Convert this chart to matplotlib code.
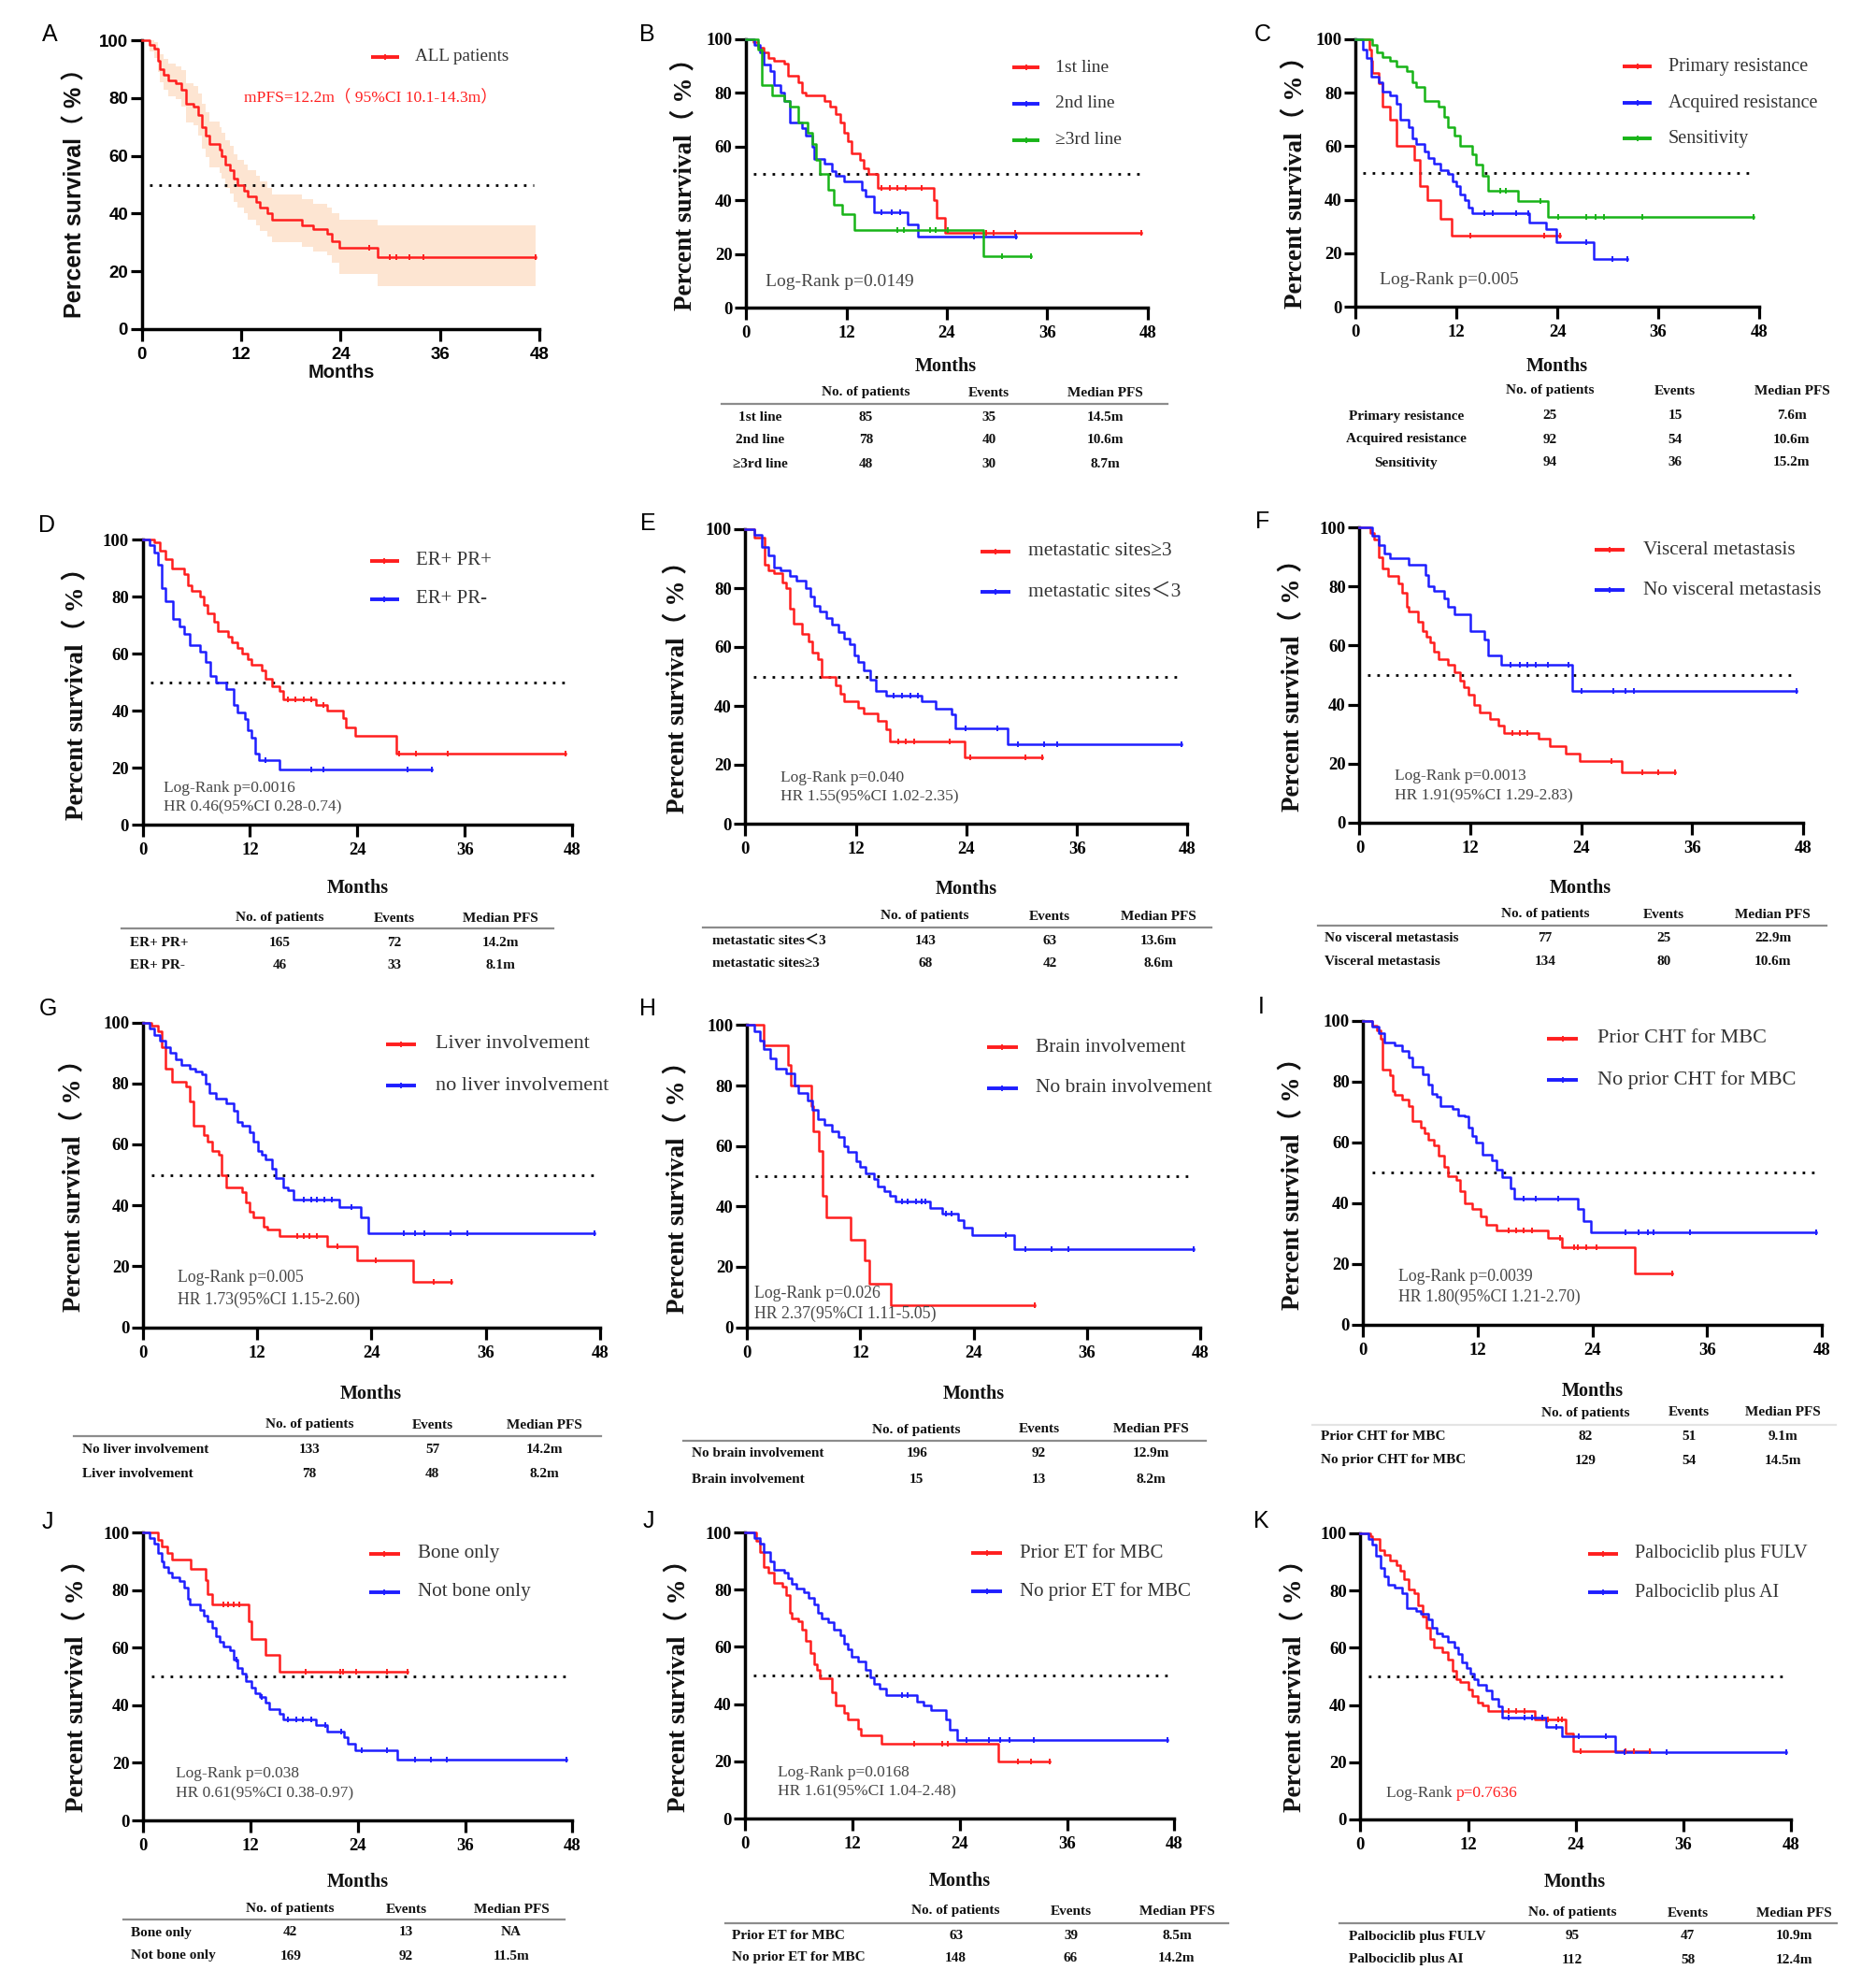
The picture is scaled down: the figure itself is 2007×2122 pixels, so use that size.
import numpy as np
import matplotlib
matplotlib.use('Agg')
import matplotlib.pyplot as plt
from matplotlib.lines import Line2D

W, H = 2008, 2122
SERIF = ['Liberation Serif', 'Noto Sans CJK SC']
SANS = ['Liberation Sans', 'Noto Sans CJK SC']
RED = '#FF1E1E'
BLUE = '#1E1EFF'
GREEN = '#18B418'
BAND = '#FDE5D2'
TXT = '#333333'
STAT = '#454545'

x_ticks = [0, 12, 24, 36, 48]
y_ticks = [0, 20, 40, 60, 80, 100]
median_ref = 50
tbl_headers = ['No. of patients', 'Events', 'Median PFS']

# ---------------- Panel A : all patients ----------------
a_all_t = [0, 0.96, 1.45, 1.93, 2.17, 2.65, 3.14, 4.1, 4.82, 5.3, 6.27, 6.75, 7.24, 7.72, 8.2, 9.4, 9.65, 10.13, 10.6, 11.1, 11.58, 12.3, 12.8, 13.75, 14.23, 15.2, 15.68, 19.3, 20.74, 22.4, 22.9, 23.9, 28.5, 47.5]
a_all_s = [100, 98.5, 97, 93, 90, 88, 86, 85, 83, 78, 77, 74, 70, 67, 64, 62, 60, 57, 55, 52, 50, 48, 46, 44, 42, 40, 38, 36, 34.5, 33, 30.5, 28, 25, 25]
a_ci_hi = [100, 100, 99.5, 97, 95, 93.5, 92, 91, 89.5, 85, 84, 81.5, 78, 75, 72, 70, 68, 65.5, 63.5, 60.5, 58.5, 57, 55, 53, 51, 49, 46.5, 45, 43.5, 42, 40, 38, 36, 36]
a_ci_lo = [100, 96, 94, 89, 85.5, 83, 80.5, 79.5, 77, 71.5, 70.5, 67, 62.5, 59.5, 56, 54, 52, 49, 47, 44, 42, 40, 38, 36, 34, 32, 30, 28.5, 27, 25.5, 23, 19, 15, 15]
a_all_c = [27.5, 29.9, 30.7, 32.3, 34.0, 47.5]

# ---------------- Panel B : line of therapy ----------------
b_first_t = [0, 0.86, 1.43, 2.15, 2.63, 3.34, 4.54, 5.01, 6.21, 6.69, 7.16, 9.31, 10.03, 10.74, 11.22, 11.7, 12.18, 12.66, 13.61, 14.09, 14.57, 15.76, 22.45, 22.83, 23.78, 47.28]
b_first_s = [100, 99, 97, 95, 93, 92, 91, 86.5, 84, 80, 79, 77, 75, 72, 69, 65, 62, 57.5, 55, 52, 50, 44.5, 40, 33.5, 28, 28]
b_first_c = [16.2, 17.2, 18.1, 19.1, 21.0, 28.7, 29.6, 32.2, 47.28]
b_second_t = [0, 0.96, 1.67, 2.15, 2.87, 3.34, 4.06, 4.54, 5.25, 6.69, 7.16, 7.88, 8.12, 9.31, 10.27, 10.74, 11.7, 13.85, 14.33, 15.28, 19.34, 20.53, 32.24]
b_second_s = [100, 98, 95, 90.5, 88, 83, 80, 77, 69, 67, 64, 60, 55.5, 53.5, 51, 49, 47, 44, 41.5, 35.5, 31, 26.5, 26.5]
b_second_c = [16.2, 17.4, 18.4, 27.2, 32.24]
b_third_t = [0, 1.43, 1.91, 3.1, 4.54, 5.25, 6.21, 7.4, 7.88, 8.36, 8.83, 9.79, 10.5, 11.46, 12.89, 28.32, 34.05]
b_third_s = [100, 96, 83, 79, 77, 75, 69, 65, 61, 55, 50, 44, 38.5, 35, 29, 19.3, 19.3]
b_third_c = [18.1, 18.9, 22.0, 22.7, 24.1, 30.6, 34.05]

# ---------------- Panel C : endocrine sensitivity ----------------
c_prim_t = [0, 1.6, 1.9, 2.0, 2.71, 3.18, 4.13, 4.85, 6.99, 7.6, 8.56, 10.08, 11.41, 24.33]
c_prim_s = [100, 96, 92, 87.5, 83.5, 75, 70, 60, 55, 45, 40, 33, 26.5, 26.5]
c_prim_c = [13.6, 22.4, 24.33]
c_acq_t = [0, 0.81, 1.28, 1.9, 2.71, 3.18, 4.13, 4.85, 5.32, 6.27, 6.75, 7.22, 8.17, 8.65, 9.36, 10.08, 11.03, 11.5, 11.98, 12.45, 12.93, 13.4, 13.88, 20.67, 22.67, 23.86, 28.37, 32.32]
c_acq_s = [100, 96, 93, 86, 84, 80.5, 79, 76, 70, 67, 63, 61, 58, 55.5, 53.5, 51, 49.5, 47, 45, 42, 40, 37, 35, 31.5, 29, 24, 18, 18]
c_acq_c = [15.3, 16.3, 19.1, 20.5, 27.4, 30.5, 32.32]
c_sens_t = [0, 2.0, 2.47, 3.18, 4.13, 4.85, 6.04, 6.75, 7.22, 8.17, 9.84, 10.55, 11.03, 11.74, 12.45, 13.88, 14.35, 15.07, 15.78, 19.34, 22.91, 47.29]
c_sens_s = [100, 98, 95, 93.5, 92, 90, 88, 84, 82, 77, 75, 71, 67, 64, 60, 57, 53, 49, 43.5, 39.5, 33.5, 33.5]
c_sens_c = [17.2, 17.9, 22.0, 24.1, 27.4, 28.6, 29.6, 34.1, 47.29]

# ---------------- Panel D : PR status ----------------
d_prpos_t = [0, 1.25, 1.92, 2.59, 3.26, 4.6, 5.04, 5.49, 6.38, 6.83, 7.28, 7.95, 8.39, 9.51, 9.96, 10.63, 11.07, 11.74, 12.19, 13.3, 13.75, 14.42, 15.31, 15.76, 19.33, 20.67, 22.37, 22.68, 23.71, 28.35, 47.23]
d_prpos_s = [100, 99, 96, 93, 90, 88, 84, 82, 80, 77, 74, 71, 68, 66, 64, 62, 60, 58, 56, 54, 51, 48.5, 47, 44, 42, 40, 37.5, 34, 31, 25, 25]
d_prpos_c = [16.2, 17.1, 18.0, 18.9, 20.2, 28.7, 30.5, 34.1, 47.23]
d_prneg_t = [0, 0.8, 1.25, 1.7, 2.14, 2.59, 3.35, 4.15, 4.6, 5.27, 6.38, 7.05, 7.59, 8.17, 9.29, 10.18, 10.63, 11.38, 11.74, 12.19, 12.63, 12.99, 15.31, 32.28]
d_prneg_s = [100, 98, 95.5, 91, 83, 78.5, 72, 69.5, 67, 63, 60.5, 57, 52, 50, 47.5, 42, 39.5, 37, 33, 30.5, 25, 22.5, 19.5, 19.5]
d_prneg_c = [13.75, 18.9, 20.2, 29.6, 32.28]

# ---------------- Panel E : number of metastatic sites ----------------
e_ge3_t = [0, 0.95, 2.04, 2.47, 3.12, 3.99, 4.42, 4.86, 5.2, 6.16, 6.81, 7.24, 7.89, 8.24, 9.84, 10.28, 10.71, 12.23, 12.88, 14.4, 15.26, 15.7, 23.85, 32.18]
e_ge3_s = [100, 97, 88, 86, 85, 82, 80, 73, 68, 64.5, 62, 58, 56, 50, 47, 44, 41.5, 39.5, 37.5, 35, 32, 28, 22.5, 22.5]
e_ge3_c = [16.6, 17.4, 18.3, 22.2, 24.4, 30.4, 32.18]
e_lt3_t = [0, 0.95, 1.82, 2.47, 3.12, 3.77, 4.86, 5.51, 6.59, 7.03, 7.46, 8.11, 8.76, 9.41, 10.06, 10.71, 11.36, 11.8, 12.23, 12.88, 13.53, 14.18, 15.26, 19.17, 20.69, 22.42, 22.77, 28.49, 47.35]
e_lt3_s = [100, 98, 94, 91, 87, 86, 84, 82.5, 80, 77, 74, 72, 70, 67.5, 65, 63, 61, 57, 55, 52, 49, 45, 43.5, 41.5, 39, 37, 32.5, 27, 27]
e_lt3_c = [16.1, 17.0, 17.9, 18.7, 23.9, 27.4, 29.6, 32.4, 33.9, 47.35]

# ---------------- Panel F : visceral metastasis ----------------
f_visc_t = [0, 1.17, 1.6, 2.03, 2.46, 3.11, 4.19, 4.63, 5.06, 5.27, 6.36, 6.79, 7.22, 7.65, 8.08, 8.52, 9.6, 10.25, 10.9, 11.33, 11.76, 12.41, 12.97, 14.14, 15.0, 15.65, 19.33, 20.62, 22.35, 23.78, 28.4, 34.16]
f_visc_s = [100, 98, 96, 90, 86, 83.5, 81, 78, 73, 71.5, 68, 65, 63, 61, 58, 55.5, 53.5, 51, 48, 46, 43.5, 40, 37.5, 35, 33, 30.5, 28.5, 26, 23.5, 21, 17, 17]
f_visc_c = [16.5, 17.4, 18.2, 27.3, 30.6, 32.3, 34.16]
f_novisc_t = [0, 1.38, 2.03, 2.68, 3.33, 5.27, 7.09, 7.44, 8.08, 9.17, 9.6, 10.25, 11.98, 13.49, 13.92, 15.35, 23.0, 47.3]
f_novisc_s = [100, 97, 94, 91, 89.5, 87.5, 84, 80, 78.5, 76, 73, 70.5, 65, 62, 56.5, 53.5, 44.5, 44.5]
f_novisc_c = [16.3, 17.4, 18.2, 19.1, 20.4, 22.6, 24.0, 27.5, 28.8, 29.7, 47.3]

# ---------------- Panel G : liver involvement ----------------
g_liver_t = [0, 0.92, 1.55, 1.97, 2.39, 3.02, 4.49, 4.91, 5.33, 6.38, 6.8, 7.22, 7.97, 8.27, 8.69, 10.37, 10.78, 11.2, 11.62, 12.67, 13.01, 14.35, 19.39, 22.45, 28.33, 32.4]
g_liver_s = [100, 99, 97, 92, 85, 80.5, 79, 74, 66, 63, 61, 58, 56.5, 50, 46, 44.5, 41, 38, 36, 33, 32, 30, 26.5, 22, 15, 15]
g_liver_c = [16.2, 16.9, 17.5, 18.3, 20.4, 24.4, 30.5, 32.4]
g_noliver_t = [0, 0.71, 1.13, 1.76, 2.39, 2.81, 3.44, 4.07, 4.91, 5.54, 6.17, 6.59, 7.01, 7.64, 8.69, 9.53, 9.95, 10.37, 11.2, 11.62, 12.05, 12.46, 12.88, 13.51, 13.93, 14.77, 15.19, 15.82, 20.65, 22.87, 23.67, 47.38]
g_noliver_s = [100, 98, 96, 94, 92, 90, 88, 86, 85, 84, 83, 80, 77, 75, 73.5, 71, 67.5, 66, 64, 61, 58, 56.5, 55, 52, 49, 46, 45, 42, 39.5, 36, 31, 31]
g_noliver_c = [16.9, 17.7, 18.3, 19.0, 19.8, 21.9, 27.4, 28.6, 29.6, 32.3, 34.1, 47.38]

# ---------------- Panel H : brain involvement ----------------
h_brain_t = [0, 1.82, 4.36, 4.69, 6.77, 7.02, 7.61, 8.03, 8.37, 10.99, 12.47, 12.94, 15.26, 30.44]
h_brain_s = [100, 93.3, 86.7, 80, 73.3, 65, 58.5, 43.5, 36.5, 29, 22, 14.5, 7.3, 7.3]
h_brain_c = [30.44]
h_nobrain_t = [0, 0.76, 1.4, 1.82, 2.45, 3.09, 4.14, 4.99, 5.41, 6.47, 6.89, 7.53, 8.16, 9.01, 9.64, 10.27, 10.7, 11.54, 11.97, 12.6, 13.45, 13.87, 14.5, 15.14, 15.77, 19.37, 20.63, 22.33, 22.96, 23.81, 28.33, 47.27]
h_nobrain_s = [100, 98, 95, 92, 89, 85.5, 84, 80, 77.5, 75, 72, 69, 67, 65, 63, 60, 58, 55, 53, 51, 49, 46.5, 45, 43.5, 41.5, 39.5, 37.5, 35.5, 33, 30.5, 26, 26]
h_nobrain_c = [16.4, 17.0, 17.9, 18.5, 18.9, 21.1, 21.7, 27.4, 29.5, 32.3, 34.0, 47.27]

# ---------------- Panel I : prior chemotherapy ----------------
i_cht_t = [0, 0.96, 1.38, 1.8, 2.01, 2.84, 3.05, 3.26, 4.1, 4.72, 5.14, 5.98, 6.4, 6.81, 7.44, 7.86, 8.49, 8.9, 9.74, 10.16, 10.58, 11.41, 12.25, 12.88, 13.92, 19.36, 20.82, 28.43, 32.32]
i_cht_s = [100, 98.5, 97, 94, 84, 82, 77, 75.5, 74, 72, 67, 65, 63, 61, 59, 55.5, 52, 49, 47.5, 44, 40, 38, 35.5, 33, 31, 28.5, 25.5, 17, 17]
i_cht_c = [15.2, 16.0, 16.8, 17.7, 20.6, 22.1, 22.5, 23.3, 24.4, 32.32]
i_nocht_t = [0, 0.96, 1.59, 2.22, 3.26, 4.1, 4.72, 5.14, 6.19, 6.81, 7.23, 7.65, 8.07, 9.32, 9.95, 10.58, 10.99, 11.41, 11.83, 12.46, 13.5, 13.92, 14.55, 15.38, 15.8, 22.49, 23.04, 23.87, 47.37]
i_nocht_s = [100, 98, 96, 93, 92, 90, 88, 85, 82.5, 79, 76, 75, 72, 71, 69, 68.5, 65, 62, 60, 56, 54, 51, 48.5, 45, 41.5, 38, 34, 30.5, 30.5]
i_nocht_c = [16.8, 18.1, 20.4, 27.5, 28.8, 29.8, 30.4, 34.2, 47.37]

# ---------------- Panel J : bone only ----------------
j_bone_t = [0, 1.65, 2.1, 2.68, 3.21, 5.36, 7.01, 7.23, 7.77, 11.79, 12.14, 13.71, 15.27, 29.55]
j_bone_s = [100, 97.5, 95, 93, 90.5, 87.5, 83.5, 78.5, 75, 69, 63, 57.5, 51.5, 51.5]
j_bone_c = [9.0, 9.5, 10.1, 10.8, 18.2, 22.0, 22.4, 23.8, 27.3, 29.55]
j_notbone_t = [0, 0.76, 1.21, 1.65, 2.1, 2.32, 2.77, 3.21, 4.11, 4.55, 5.0, 5.22, 6.34, 6.79, 7.23, 7.68, 8.13, 8.57, 9.02, 9.69, 10.13, 10.58, 11.03, 11.47, 12.14, 12.59, 13.04, 13.71, 14.15, 15.27, 15.71, 19.29, 20.63, 22.5, 22.86, 23.75, 28.44, 47.32]
j_notbone_s = [100, 98, 96, 93, 90, 88, 86, 84.5, 83, 81, 77, 75, 73, 71, 69, 67, 64, 62, 60.5, 59, 56, 53, 51, 48.5, 46, 44, 43, 41, 38.5, 37, 35, 33, 31, 29, 26.5, 24.5, 21, 21]
j_notbone_c = [10.4, 13.3, 16.2, 17.1, 17.9, 18.8, 20.4, 22.2, 24.4, 27.3, 30.4, 32.2, 34.0, 47.32]

# ---------------- Panel J (2) : prior endocrine therapy ----------------
j2_et_t = [0, 1.21, 1.65, 2.1, 2.55, 3.22, 4.11, 4.56, 5.0, 5.23, 5.9, 6.34, 6.79, 7.24, 7.69, 8.04, 8.36, 9.7, 10.14, 11.04, 11.48, 12.6, 12.96, 15.19, 28.33, 34.05]
j2_et_s = [100, 97, 93, 88, 86, 82.5, 81, 78, 72, 70, 69, 66, 62, 58, 54, 52, 49, 44, 39.5, 37, 34.5, 31.5, 29, 26, 20, 20]
j2_et_c = [18.9, 22.0, 22.7, 30.5, 32.0, 34.05]
j2_noet_t = [0, 0.98, 1.65, 2.1, 2.77, 3.22, 4.33, 4.78, 5.23, 5.67, 6.57, 7.02, 7.69, 8.13, 8.58, 9.25, 9.92, 10.59, 11.04, 11.48, 11.93, 12.6, 13.49, 13.94, 14.39, 15.06, 15.73, 19.21, 19.97, 20.73, 22.43, 22.88, 23.68, 47.23]
j2_noet_s = [100, 98, 96, 93, 90, 87, 86, 84, 82, 80.5, 79, 77, 75, 72, 70, 68.5, 66, 64, 61, 59, 56.5, 55, 52, 49.5, 47, 45.5, 43, 41, 39.5, 37.8, 34.5, 31, 27.5, 27.5]
j2_noet_c = [17.5, 18.2, 24.7, 27.3, 28.5, 29.6, 32.3, 47.23]

# ---------------- Panel K : endocrine partner ----------------
k_fulv_t = [0, 1.11, 1.34, 2.14, 2.67, 3.34, 4.01, 4.45, 4.9, 5.34, 6.01, 6.46, 6.9, 7.35, 7.79, 8.24, 9.13, 9.8, 10.24, 10.69, 11.13, 12.02, 12.47, 13.13, 13.58, 14.25, 19.46, 22.93, 23.73, 32.28]
k_fulv_s = [100, 99, 98, 94, 92.5, 90.5, 89, 87, 84, 80.5, 79, 75, 71, 67, 63, 60, 58.5, 56, 52, 49, 48, 45.5, 43, 41, 40, 38, 35, 30, 24, 24]
k_fulv_c = [16.5, 17.4, 18.3, 20.9, 22.0, 22.5, 24.5, 29.6, 30.5, 32.28]
k_ai_t = [0, 0.89, 1.34, 1.78, 2.23, 2.67, 3.12, 3.78, 4.67, 5.12, 6.23, 6.68, 7.57, 8.01, 8.46, 9.13, 9.8, 10.46, 10.91, 11.35, 11.8, 12.24, 12.69, 13.13, 14.03, 14.69, 15.36, 15.81, 20.7, 22.48, 28.41, 47.42]
k_ai_s = [100, 98, 96, 92, 88, 85, 82, 81, 79, 74, 73, 72, 70, 67, 65, 64, 62, 60, 58, 55, 53, 51, 49, 47, 45, 42, 39.5, 35.5, 32.5, 29, 23.5, 23.5]
k_ai_c = [16.5, 18.3, 19.1, 20.3, 21.8, 24.3, 27.4, 29.4, 34.1, 47.42]

# ---------------- table contents ----------------
b_rows = ['1st line', '2nd line', '\u22653rd line']
b_n = [85, 78, 48]; b_ev = [35, 40, 30]; b_med = ['14.5m', '10.6m', '8.7m']
c_rows = ['Primary resistance', 'Acquired resistance', 'Sensitivity']
c_n = [25, 92, 94]; c_ev = [15, 54, 36]; c_med = ['7.6m', '10.6m', '15.2m']
d_rows = ['ER+ PR+', 'ER+ PR-']
d_n = [165, 46]; d_ev = [72, 33]; d_med = ['14.2m', '8.1m']
e_rows = ['metastatic sites\uff1c3', 'metastatic sites\u22653']
e_n = [143, 68]; e_ev = [63, 42]; e_med = ['13.6m', '8.6m']
f_rows = ['No visceral metastasis', 'Visceral metastasis']
f_n = [77, 134]; f_ev = [25, 80]; f_med = ['22.9m', '10.6m']
g_rows = ['No liver involvement', 'Liver involvement']
g_n = [133, 78]; g_ev = [57, 48]; g_med = ['14.2m', '8.2m']
h_rows = ['No brain involvement', 'Brain involvement']
h_n = [196, 15]; h_ev = [92, 13]; h_med = ['12.9m', '8.2m']
i_rows = ['Prior CHT for MBC', 'No prior CHT for MBC']
i_n = [82, 129]; i_ev = [51, 54]; i_med = ['9.1m', '14.5m']
j_rows = ['Bone only', 'Not bone only']
j_n = [42, 169]; j_ev = [13, 92]; j_med = ['NA', '11.5m']
j2_rows = ['Prior ET for MBC', 'No prior ET for MBC']
j2_n = [63, 148]; j2_ev = [39, 66]; j2_med = ['8.5m', '14.2m']
k_rows = ['Palbociclib plus FULV', 'Palbociclib plus AI']
k_n = [95, 112]; k_ev = [47, 58]; k_med = ['10.9m', '12.4m']

# =====================================================================
fig = plt.figure(figsize=(W / 100, H / 100), dpi=100)
fig.patch.set_facecolor('white')

TICK_FS = 13.5
TBL_FS = 11


def fx(x):
    return x / W


def fy(y):
    return 1 - y / H


def step_value(t, s, x):
    i = int(np.searchsorted(np.asarray(t), x, side='right')) - 1
    return s[max(i, 0)]


def km(ax, t, s, c, color):
    n = min(len(t), len(s))
    t, s = t[:n], s[:n]
    ax.step(t, s, where='post', color=color, lw=1.8, clip_on=False, zorder=3)
    cy = [step_value(t, s, x) for x in c]
    ax.plot(c, cy, ls='none', marker='|', ms=5, mew=1.4, color=color,
            clip_on=False, zorder=4)


def make_axes(box, sans=False):
    x0, x48, y100, y0 = box
    ax = fig.add_axes([fx(x0), fy(y0), (x48 - x0) / W, (y0 - y100) / H])
    ax.set_xlim(0, 48)
    ax.set_ylim(0, 100)
    fam = SANS if sans else SERIF
    ax.set_xticks(x_ticks, labels=[str(v) for v in x_ticks], fontfamily=fam,
                  fontweight='bold', fontsize=TICK_FS)
    ax.set_yticks(y_ticks, labels=[str(v) for v in y_ticks], fontfamily=fam,
                  fontweight='bold', fontsize=TICK_FS)
    for sp in ['top', 'right']:
        ax.spines[sp].set_visible(False)
    for sp in ['left', 'bottom']:
        ax.spines[sp].set_linewidth(2.5)
        ax.spines[sp].set_capstyle('projecting')
    ax.tick_params(axis='both', direction='out', length=9, width=2.3)
    ax.tick_params(axis='x', pad=5)
    ax.tick_params(axis='y', pad=1.5)
    ax.patch.set_alpha(0)
    ax.hlines(median_ref, 0.9, 47.3, colors='black', linestyles=(0, (1, 2.6)),
              lw=2.0, zorder=2)
    return ax


def legend(ax, labels, colors, lx0, lx1, tx, rows, fs):
    for lab, col, y in zip(labels, colors, rows):
        ax.plot([lx0, lx1], [y, y], color=col, lw=2.8, clip_on=False,
                solid_capstyle='butt')
        ax.plot([(lx0 + lx1) / 2], [y], marker='|', ms=4.5, mew=1.3, color=col,
                clip_on=False)
        ax.text(tx, y, lab, fontsize=fs, family=SERIF, color=TXT,
                va='center', ha='left', clip_on=False)


def stats(ax, x, ys, lines, fs):
    for y, s in zip(ys, lines):
        ax.text(x, y, s, fontsize=fs, family=SERIF, color=STAT, va='center',
                ha='left', clip_on=False)


def table(rows, n, ev, med, hy, ly, line_x, ry, cols, label_center=False,
          line_color='#8c8c8c'):
    for x, h in zip(cols[1:], tbl_headers):
        fig.text(fx(x), fy(hy), h, ha='center', va='center', family=SERIF,
                 weight='bold', fontsize=TBL_FS, color='#111111')
    if ly is not None:
        fig.add_artist(Line2D([fx(line_x[0]), fx(line_x[1])], [fy(ly), fy(ly)],
                              color=line_color, lw=1.6))
    for i, y in enumerate(ry):
        fig.text(fx(cols[0]), fy(y), rows[i], ha='center' if label_center else 'left',
                 va='center', family=SERIF, weight='bold', fontsize=TBL_FS,
                 color='#111111')
        for x, v in zip(cols[1:], [n[i], ev[i], med[i]]):
            fig.text(fx(x), fy(y), str(v), ha='center', va='center', family=SERIF,
                     weight='bold', fontsize=TBL_FS, color='#111111')


def labels(letter, lxy, ylxy, mxy, sans=False):
    fig.text(fx(lxy[0]), fy(lxy[1]), letter, ha='center', va='center',
             family=SANS, fontsize=18)
    fam = SANS if sans else SERIF
    fig.text(fx(ylxy[0]), fy(ylxy[1]), 'Percent survival\uff08 % \uff09',
             rotation=90, ha='center', va='center', family=fam, weight='bold',
             fontsize=18 if sans else 19.5, color='#111111')
    fig.text(fx(mxy[0]), fy(mxy[1]), 'Months', ha='center', va='center',
             family=fam, weight='bold', fontsize=14.5, color='#111111')


# ---------------- A ----------------
ax = make_axes((151.7, 577, 43, 352), sans=True)
ax.fill_between(a_all_t, a_ci_lo, a_ci_hi, step='post', color=BAND, lw=0,
                zorder=1)
km(ax, a_all_t, a_all_s, a_all_c, RED)
legend(ax, ['ALL patients'], [RED], 27.7, 31.1, 33.0, [94.3], 13.8)
ax.text(12.3, 80, 'mPFS=12.2m\uff08 95%CI 10.1-14.3m\uff09', color=RED,
        fontsize=12.6, family=SERIF, va='center', ha='left')
labels('A', (53, 37), (81, 200), (365, 398), sans=True)

# ---------------- B ----------------
ax = make_axes((798.2, 1227.7, 42, 329))
km(ax, b_first_t, b_first_s, b_first_c, RED)
km(ax, b_second_t, b_second_s, b_second_c, BLUE)
km(ax, b_third_t, b_third_s, b_third_c, GREEN)
legend(ax, ['1st line', '2nd line', '\u22653rd line'], [RED, BLUE, GREEN],
       31.8, 35.1, 37.0, [89.4, 76.1, 62.5], 14)
stats(ax, 2.3, [9.6], ['Log-Rank p=0.0149'], 14)
labels('B', (692, 37), (732, 190), (1012, 392))
table(b_rows, b_n, b_ev, b_med, 420, 432, (771.7, 1249), [446, 471, 496],
      (813.2, 926.4, 1058, 1182.8), label_center=True)

# ---------------- C ----------------
ax = make_axes((1450.3, 1881.9, 42, 328))
km(ax, c_prim_t, c_prim_s, c_prim_c, RED)
km(ax, c_acq_t, c_acq_s, c_acq_c, BLUE)
km(ax, c_sens_t, c_sens_s, c_sens_c, GREEN)
legend(ax, ['Primary resistance', 'Acquired resistance', 'Sensitivity'],
       [RED, BLUE, GREEN], 31.8, 35.2, 37.2, [89.8, 76.2, 62.8], 14.5)
stats(ax, 2.9, [9.9], ['Log-Rank p=0.005'], 14)
labels('C', (1351, 37), (1385, 188), (1666, 392))
table(c_rows, c_n, c_ev, c_med, 418, None, None, [445, 470, 495],
      (1504.5, 1658.4, 1792.1, 1916.9), label_center=True)

# ---------------- D ----------------
ax = make_axes((152.6, 612, 577, 882))
km(ax, d_prpos_t, d_prpos_s, d_prpos_c, RED)
km(ax, d_prneg_t, d_prneg_s, d_prneg_c, BLUE)
legend(ax, ['ER+ PR+', 'ER+ PR-'], [RED, BLUE], 25.4, 28.7, 30.5, [92.6, 79.1], 15)
stats(ax, 2.3, [12.8, 6.2], ['Log-Rank p=0.0016', 'HR 0.46(95%CI 0.28-0.74)'], 12.5)
labels('D', (50, 562), (81, 735), (382.5, 950))
table(d_rows, d_n, d_ev, d_med, 982, 993, (130.3, 591.9), [1008, 1032],
      (138.9, 299.1, 422.2, 535.5))

# ---------------- E ----------------
ax = make_axes((797.4, 1270.4, 566, 881))
km(ax, e_ge3_t, e_ge3_s, e_ge3_c, RED)
km(ax, e_lt3_t, e_lt3_s, e_lt3_c, BLUE)
legend(ax, ['metastatic sites\u22653', 'metastatic sites\uff1c3'], [RED, BLUE],
       25.5, 28.8, 30.7, [92.5, 78.8], 15.5)
stats(ax, 3.8, [15.6, 9.0], ['Log-Rank p=0.040', 'HR 1.55(95%CI 1.02-2.35)'], 12.5)
labels('E', (693.5, 560), (724.7, 728), (1034, 951))
table(e_rows, e_n, e_ev, e_med, 980, 992, (752.5, 1296), [1006, 1031],
      (761.9, 989.7, 1123, 1239.2))

# ---------------- F ----------------
ax = make_axes((1454.5, 1928.9, 564, 880))
km(ax, f_visc_t, f_visc_s, f_visc_c, RED)
km(ax, f_novisc_t, f_novisc_s, f_novisc_c, BLUE)
legend(ax, ['Visceral metastasis', 'No visceral metastasis'], [RED, BLUE],
       25.4, 28.7, 30.7, [92.4, 78.7], 15.3)
stats(ax, 3.8, [15.8, 9.0], ['Log-Rank p=0.0013', 'HR 1.91(95%CI 1.29-2.83)'], 12.5)
labels('F', (1351, 558), (1382, 726), (1691, 950))
table(f_rows, f_n, f_ev, f_med, 978, 990, (1409.7, 1954.1), [1004, 1029],
      (1416.9, 1653.2, 1780.2, 1896.8))

# ---------------- G ----------------
ax = make_axes((153, 641.9, 1093.6, 1419.6))
km(ax, g_liver_t, g_liver_s, g_liver_c, RED)
km(ax, g_noliver_t, g_noliver_s, g_noliver_c, BLUE)
legend(ax, ['Liver involvement', 'no liver involvement'], [RED, BLUE],
       25.5, 28.7, 30.7, [92.9, 79.2], 16)
stats(ax, 3.65, [16.2, 9.1], ['Log-Rank p=0.005', 'HR 1.73(95%CI 1.15-2.60)'], 12.8)
labels('G', (51, 1079), (78, 1261), (397, 1491))
table(g_rows, g_n, g_ev, g_med, 1524, 1536, (79.1, 643.2), [1551, 1576],
      (87.6, 331.2, 462.8, 582.5))

# ---------------- H ----------------
ax = make_axes((799.1, 1284.1, 1096.4, 1419.6))
km(ax, h_brain_t, h_brain_s, h_brain_c, RED)
km(ax, h_nobrain_t, h_nobrain_s, h_nobrain_c, BLUE)
legend(ax, ['Brain involvement', 'No brain involvement'], [RED, BLUE],
       25.4, 28.7, 30.6, [92.6, 79.1], 15.5)
stats(ax, 0.76, [11.2, 4.5], ['Log-Rank p=0.026', 'HR 2.37(95%CI 1.11-5.05)'], 12.8)
labels('H', (693.5, 1079), (724.7, 1263), (1042, 1491))
table(h_rows, h_n, h_ev, h_med, 1529, 1541, (731.1, 1289.7), [1555, 1582],
      (740.5, 980.7, 1111.5, 1231.1))

# ---------------- I ----------------
ax = make_axes((1458.4, 1949, 1091.8, 1416.8))
km(ax, i_cht_t, i_cht_s, i_cht_c, RED)
km(ax, i_nocht_t, i_nocht_s, i_nocht_c, BLUE)
legend(ax, ['Prior CHT for MBC', 'No prior CHT for MBC'], [RED, BLUE],
       19.2, 22.5, 24.5, [94.2, 80.5], 16)
stats(ax, 3.7, [15.9, 9.1], ['Log-Rank p=0.0039', 'HR 1.80(95%CI 1.21-2.70)'], 12.8)
labels('I', (1349.4, 1077), (1382.7, 1259), (1704, 1488))
table(i_rows, i_n, i_ev, i_med, 1511, 1524, (1404.1, 1963.9), [1537, 1562],
      (1412.6, 1696, 1807.1, 1907.1), line_color='#e4e4e4')

# ---------------- J (bone only) ----------------
ax = make_axes((153, 612.4, 1639, 1947))
km(ax, j_bone_t, j_bone_s, j_bone_c, RED)
km(ax, j_notbone_t, j_notbone_s, j_notbone_c, BLUE)
legend(ax, ['Bone only', 'Not bone only'], [RED, BLUE], 25.3, 28.7, 30.7,
       [92.6, 79.3], 15.2)
stats(ax, 3.66, [16.3, 9.2], ['Log-Rank p=0.038', 'HR 0.61(95%CI 0.38-0.97)'], 12.5)
labels('J', (51, 1628), (81, 1796), (382.5, 2013))
table(j_rows, j_n, j_ev, j_med, 2042, 2053, (131.6, 603.8), [2067, 2092],
      (140.2, 310.7, 434.6, 547))

# ---------------- J (prior ET) ----------------
ax = make_axes((797.4, 1256.3, 1639, 1945))
km(ax, j2_et_t, j2_et_s, j2_et_c, RED)
km(ax, j2_noet_t, j2_noet_s, j2_noet_c, BLUE)
legend(ax, ['Prior ET for MBC', 'No prior ET for MBC'], [RED, BLUE],
       25.3, 28.7, 30.7, [92.8, 79.5], 15)
stats(ax, 3.66, [16.1, 9.3], ['Log-Rank p=0.0168', 'HR 1.61(95%CI 1.04-2.48)'], 12.5)
labels('J', (693.5, 1627), (725.6, 1796), (1027, 2012))
table(j2_rows, j2_n, j2_ev, j2_med, 2044, 2057, (776, 1314.4), [2070, 2094],
      (783.2, 1022.6, 1145.6, 1258.9))

# ---------------- K ----------------
ax = make_axes((1455.4, 1916.1, 1640, 1946))
km(ax, k_fulv_t, k_fulv_s, k_fulv_c, RED)
km(ax, k_ai_t, k_ai_s, k_ai_c, BLUE)
legend(ax, ['Palbociclib plus FULV', 'Palbociclib plus AI'], [RED, BLUE],
       25.4, 28.7, 30.6, [92.9, 79.3], 14.5)
t1 = ax.text(2.9, 9.0, 'Log-Rank ', fontsize=12.5, family=SERIF, color=STAT,
             va='center', ha='left')
ax.annotate('p=0.7636', xy=(1, 0.5), xycoords=t1, fontsize=12.5, family=SERIF,
            color=RED, va='center', ha='left')
labels('K', (1349.4, 1627), (1384, 1796), (1685, 2013))
table(k_rows, k_n, k_ev, k_med, 2046, 2057, (1433.2, 1964.8), [2071, 2096],
      (1442.6, 1681.9, 1805.8, 1919.1))

fig.savefig('out.png', dpi=100, facecolor='white')
